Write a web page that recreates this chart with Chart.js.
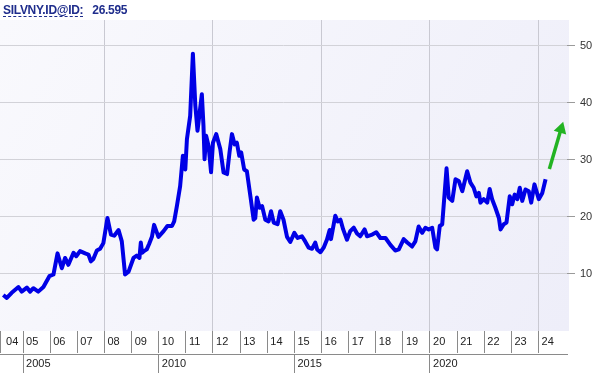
<!DOCTYPE html>
<html>
<head>
<meta charset="utf-8">
<script src="https://cdn.jsdelivr.net/npm/chart.js@4.4.1/dist/chart.umd.min.js"></script>
<style>
  html, body { margin: 0; padding: 0; background: #fff; }
  #wrap { position: relative; width: 597px; height: 373px; }
  #title {
    position: absolute; left: 3px; top: 3px;
    font: bold 12px "Liberation Sans", Arial, sans-serif;
    letter-spacing: -0.3px; color: #1f2d8c; white-space: nowrap;
  }
  #title .sym { text-decoration: underline dashed; text-underline-offset: 2px; }
  #title .last { margin-left: 9px; }
</style>
</head>
<body>
<div id="wrap">
  <canvas id="chart" width="597" height="373"></canvas>
  <div id="title"><span class="sym">SILVNY.ID@ID:</span><span class="last">26.595</span></div>
</div>
<script>
const xStart = 2004.15;
const xEnd = 2025.05;
const yMax = 54.5;

const yearTicks = [2004, 2005, 2006, 2007, 2008, 2009, 2010, 2011, 2012, 2013, 2014,
  2015, 2016, 2017, 2018, 2019, 2020, 2021, 2022, 2023, 2024];
const yearLabels = ['04', '05', '06', '07', '08', '09', '10', '11', '12', '13', '14',
  '15', '16', '17', '18', '19', '20', '21', '22', '23', '24'];
const bigYearTicks = [2005, 2010, 2015, 2020];
const bigYearLabels = ['2005', '2010', '2015', '2020'];
const gridYears = [2008, 2012, 2016, 2020, 2024];
const valueTicks = [10, 20, 30, 40, 50];

// silver price, decimal year -> value
const silverDates = [
  2004.27, 2004.40, 2004.58, 2004.83, 2004.95,
  2005.14, 2005.26, 2005.38, 2005.56, 2005.75, 2005.97,
  2006.12, 2006.27, 2006.43, 2006.55, 2006.67, 2006.86, 2006.96,
  2007.10, 2007.29, 2007.41, 2007.50, 2007.59, 2007.72, 2007.84, 2007.96,
  2008.11, 2008.24, 2008.36, 2008.52, 2008.64, 2008.76, 2008.89,
  2009.07, 2009.19, 2009.29, 2009.34, 2009.39, 2009.46, 2009.56, 2009.65, 2009.75, 2009.83, 2009.99,
  2010.18, 2010.32, 2010.49, 2010.57, 2010.67, 2010.79, 2010.89, 2010.98,
  2011.04, 2011.16, 2011.26, 2011.35, 2011.43, 2011.59, 2011.65, 2011.69, 2011.75, 2011.84, 2011.93,
  2012.00, 2012.12, 2012.27, 2012.39, 2012.52, 2012.61, 2012.70, 2012.80, 2012.88, 2012.97,
  2013.04, 2013.15, 2013.25, 2013.38, 2013.50, 2013.56, 2013.62, 2013.72, 2013.81, 2013.93,
  2014.05, 2014.14, 2014.24, 2014.38, 2014.48, 2014.60, 2014.73, 2014.85,
  2015.00, 2015.12, 2015.28, 2015.40, 2015.53, 2015.65, 2015.77, 2015.84, 2015.96,
  2016.08, 2016.20, 2016.30, 2016.35, 2016.51, 2016.60, 2016.70, 2016.80, 2016.94,
  2017.06, 2017.19, 2017.31, 2017.43, 2017.59, 2017.68, 2017.87,
  2018.02, 2018.17, 2018.36, 2018.54, 2018.72, 2018.85,
  2019.03, 2019.16, 2019.34, 2019.46, 2019.58, 2019.71, 2019.83, 2019.95,
  2020.08, 2020.20, 2020.26, 2020.36, 2020.45, 2020.61, 2020.69, 2020.82, 2020.94,
  2021.06, 2021.19, 2021.37, 2021.49, 2021.61, 2021.71, 2021.80, 2021.86, 2021.98,
  2022.11, 2022.20, 2022.29, 2022.41, 2022.54, 2022.60, 2022.72, 2022.82, 2022.94,
  2023.03, 2023.12, 2023.22, 2023.31, 2023.40, 2023.52, 2023.64, 2023.73, 2023.85,
  2024.01, 2024.14, 2024.26
];
const silverPrices = [
  6.3, 5.8, 6.7, 7.7, 6.9,
  7.6, 6.9, 7.5, 6.9, 7.7, 9.6,
  9.9, 13.6, 11.0, 12.8, 11.6, 13.7, 13.1,
  14.0, 13.6, 13.4, 12.2, 12.6, 14.1, 14.4, 15.4,
  19.8, 16.9, 16.7, 17.7, 15.7, 9.9, 10.4,
  12.8, 13.2, 12.8, 15.5, 13.7, 14.0, 14.3, 15.3, 16.5, 18.6, 16.5,
  17.5, 18.4, 18.4, 19.2, 21.9, 25.4, 30.7, 28.3,
  33.6, 37.7, 48.6, 39.5, 35.1, 41.5, 36.0, 30.1, 34.2, 32.4, 27.8,
  33.0, 34.5, 31.9, 27.8, 27.5, 31.3, 34.5, 32.7, 33.0, 30.7,
  31.3, 28.3, 28.0, 23.6, 19.5, 19.8, 23.4, 21.6, 21.9, 19.5,
  19.2, 21.0, 19.0, 18.7, 21.0, 19.5, 16.5, 15.6,
  17.2, 16.3, 16.6, 15.7, 14.6, 14.4, 15.5, 14.3, 13.8,
  14.6, 16.0, 17.7, 16.1, 20.2, 19.2, 19.5, 17.8, 16.0,
  17.5, 18.1, 17.1, 16.6, 17.8, 16.6, 16.9,
  17.3, 16.3, 16.3, 15.1, 14.1, 14.3,
  16.1, 15.5, 14.8, 15.7, 18.3, 17.2, 18.1, 17.8,
  18.1, 14.6, 14.3, 18.4, 18.7, 28.5, 23.4, 22.8, 26.6,
  26.3, 24.5, 28.0, 26.0, 25.1, 23.6, 24.2, 22.5, 23.1,
  22.5, 24.9, 23.1, 21.6, 19.8, 17.8, 18.7, 19.0, 23.6,
  22.2, 23.9, 23.1, 25.1, 22.8, 24.8, 24.5, 22.5, 25.7,
  23.1, 24.2, 26.6
];

// green trend arrow, tail -> head
const arrowDates = [2024.40, 2024.83];
const arrowValues = [28.4, 35.4];

const tickFont = { family: '"Liberation Sans", Arial, sans-serif', size: 11 };

const plotBackground = {
  id: 'plotBackground',
  beforeDraw(chart) {
    const { ctx, chartArea: a } = chart;
    const g = ctx.createLinearGradient(a.left, a.top, a.right, a.bottom);
    g.addColorStop(0, '#f9f9fd');
    g.addColorStop(1, '#eeeef9');
    ctx.save();
    ctx.fillStyle = g;
    ctx.fillRect(a.left, a.top, a.right - a.left + 2, a.bottom - a.top);
    ctx.restore();
  }
};

new Chart(document.getElementById('chart'), {
  type: 'line',
  data: {
    datasets: [{
      data: silverDates.map((d, i) => ({ x: d, y: silverPrices[i] })),
      borderColor: '#0000e6',
      borderWidth: 4,
      borderJoinStyle: 'round',
      pointRadius: 0,
      tension: 0
    }, {
      data: arrowDates.map((d, i) => ({ x: d, y: arrowValues[i] })),
      borderColor: '#22b322',
      backgroundColor: '#22b322',
      borderWidth: 3.5,
      pointRadius: [0, 7.5],
      pointStyle: 'triangle',
      rotation: 16.7,
      pointBorderWidth: 0
    }]
  },
  options: {
    responsive: false,
    animation: false,
    devicePixelRatio: 1,
    layout: { autoPadding: false, padding: { top: 20, left: 0, right: 0, bottom: 0 } },
    plugins: { legend: { display: false }, tooltip: { enabled: false } },
    scales: {
      x: {
        type: 'linear', position: 'bottom', weight: 0,
        min: xStart, max: xEnd,
        afterBuildTicks: s => { s.ticks = gridYears.map(v => ({ value: v })); },
        afterFit: s => { s.height = 0; },
        ticks: { display: false },
        border: { display: false },
        grid: { drawTicks: false, color: '#c9c9d2', lineWidth: 1 }
      },
      x1: {
        type: 'linear', position: 'bottom', weight: 1,
        min: xStart, max: xEnd,
        afterBuildTicks: s => { s.ticks = yearTicks.map(v => ({ value: Math.max(v, xStart) })); },
        afterFit: s => { s.height = 23; },
        ticks: {
          align: 'start', padding: -18, autoSkip: false, maxRotation: 0,
          color: '#222', font: tickFont,
          callback: (v, i) => (i === 0 ? '  ' : ' ') + yearLabels[i]
        },
        border: { display: false },
        grid: { drawOnChartArea: false, tickLength: 22, color: '#8a8a8a' }
      },
      x2: {
        type: 'linear', position: 'bottom', weight: 2,
        min: xStart, max: xEnd,
        afterBuildTicks: s => { s.ticks = bigYearTicks.map(v => ({ value: v })); },
        afterFit: s => { s.height = 19; },
        ticks: {
          align: 'start', padding: -16, autoSkip: false, maxRotation: 0,
          color: '#222', font: tickFont,
          callback: (v, i) => ' ' + bigYearLabels[i]
        },
        border: { display: true, color: '#8a8a8a', width: 1 },
        grid: { drawOnChartArea: false, tickLength: 19, color: '#8a8a8a' }
      },
      y: {
        type: 'linear', position: 'right',
        min: 0, max: yMax,
        afterBuildTicks: s => { s.ticks = valueTicks.map(v => ({ value: v })); },
        afterFit: s => { s.width = 30; },
        ticks: { padding: 5, color: '#333', font: tickFont },
        border: { display: false },
        grid: { color: '#d2d2d8', tickLength: 8, tickColor: '#9a9a9a' }
      }
    }
  },
  plugins: [plotBackground]
});
</script>
</body>
</html>
